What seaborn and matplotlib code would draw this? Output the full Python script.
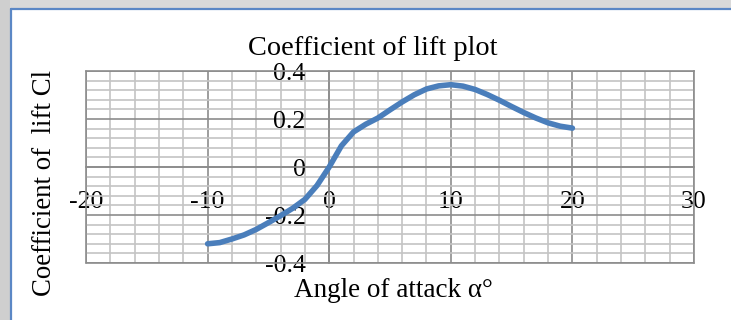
import numpy as np
import pandas as pd
import matplotlib
matplotlib.use('Agg')
import matplotlib.pyplot as plt
import seaborn as sns
from matplotlib.patches import Rectangle
from matplotlib.lines import Line2D
from matplotlib.ticker import MultipleLocator, FixedLocator, FixedFormatter

# ---- data ----
angle = list(range(-10, 21))
cl = [-0.32, -0.315, -0.30, -0.283, -0.26, -0.232, -0.203, -0.172, -0.135, -0.077,
      0.0, 0.088, 0.146, 0.178, 0.204, 0.238, 0.271, 0.301, 0.325, 0.338,
      0.343, 0.337, 0.323, 0.302, 0.278, 0.252, 0.227, 0.204, 0.184, 0.17, 0.162]
x_ticks = [-20, -10, 0, 10, 20, 30]
x_tick_labels = ['-20', '-10', '0', '10', '20', '30']
y_ticks = [-0.4, -0.2, 0, 0.2, 0.4]
y_tick_labels = ['-0.4', '-0.2', '0', '0.2', '0.4']
title = 'Coefficient of lift plot'
xlabel = 'Angle of attack α°'
ylabel = 'Coefficient of  lift Cl'

sns.set_theme(style='white')
plt.rcParams['font.family'] = ['Liberation Serif', 'DejaVu Serif']

W, H = 731, 320
fig = plt.figure(figsize=(W / 100, H / 100), dpi=100)
fig.patch.set_facecolor('white')

# screenshot surroundings: grey strips + blue frame
fig.patches.append(Rectangle((0, 1 - 8 / H), 1, 8 / H, transform=fig.transFigure,
                             facecolor='#d9d9d9', edgecolor='none', zorder=0))
fig.patches.append(Rectangle((0, 0), 10 / W, 1, transform=fig.transFigure,
                             facecolor='#cfcfcf', edgecolor='none', zorder=0))
fig.lines.append(Line2D([10.5 / W, 1], [1 - 8.5 / H, 1 - 8.5 / H], transform=fig.transFigure,
                        color='#5b87c5', lw=1.6, zorder=1))
fig.lines.append(Line2D([10.5 / W, 10.5 / W], [0, 1 - 8.5 / H], transform=fig.transFigure,
                        color='#5b87c5', lw=1.6, zorder=1))

L, R, T, B = 86, 694, 71, 263
ax = fig.add_axes([L / W, 1 - B / H, (R - L) / W, (B - T) / H])
ax.set_facecolor('white')

df = pd.DataFrame({'angle': angle, 'cl': cl})
sns.lineplot(data=df, x='angle', y='cl', ax=ax, color='#4a7ebb', lw=4.0,
             sort=False, zorder=5, solid_capstyle='round', solid_joinstyle='round')

ax.set_xlim(x_ticks[0], x_ticks[-1])
ax.set_ylim(y_ticks[0], y_ticks[-1])
ax.xaxis.set_major_locator(FixedLocator(x_ticks))
ax.xaxis.set_major_formatter(FixedFormatter(x_tick_labels))
ax.yaxis.set_major_locator(FixedLocator(y_ticks))
ax.yaxis.set_major_formatter(FixedFormatter(y_tick_labels))
ax.xaxis.set_minor_locator(MultipleLocator(2))
ax.yaxis.set_minor_locator(MultipleLocator(0.04))

major_c = '#8c8c8c'
minor_c = '#c4c4c4'
ax.grid(True, which='minor', color=minor_c, lw=1.2, zorder=1)
ax.grid(True, which='major', color=major_c, lw=1.2, zorder=2)
ax.set_axisbelow(True)

for s in ['top', 'right']:
    ax.spines[s].set_color(major_c)
    ax.spines[s].set_linewidth(1.2)
ax.spines['left'].set_position(('data', 0))
ax.spines['bottom'].set_position(('data', 0))
ax.spines['left'].set_color(major_c)
ax.spines['bottom'].set_color(major_c)
ax.spines['left'].set_linewidth(1.2)
ax.spines['bottom'].set_linewidth(1.2)
ax.axvline(x_ticks[0], color=major_c, lw=1.2, clip_on=False, zorder=2)
ax.axhline(y_ticks[0], color=major_c, lw=1.2, clip_on=False, zorder=2)

ax.tick_params(axis='both', which='both', length=0, labelsize=18.5, colors='black')
ax.tick_params(axis='x', pad=17)
ax.tick_params(axis='y', pad=17)
ax.set_xlabel('')
ax.set_ylabel('')

fig.text(373 / W, 1 - 55 / H, title, ha='center', va='baseline', fontsize=20.4, color='black')
fig.text(393 / W, 1 - 297 / H, xlabel, ha='center', va='baseline', fontsize=19.5, color='black')
fig.text(45 / W, 1 - 182.5 / H, ylabel, ha='center', va='center', rotation=90,
         fontsize=19.3, color='black')

fig.savefig('out.png', dpi=100)
